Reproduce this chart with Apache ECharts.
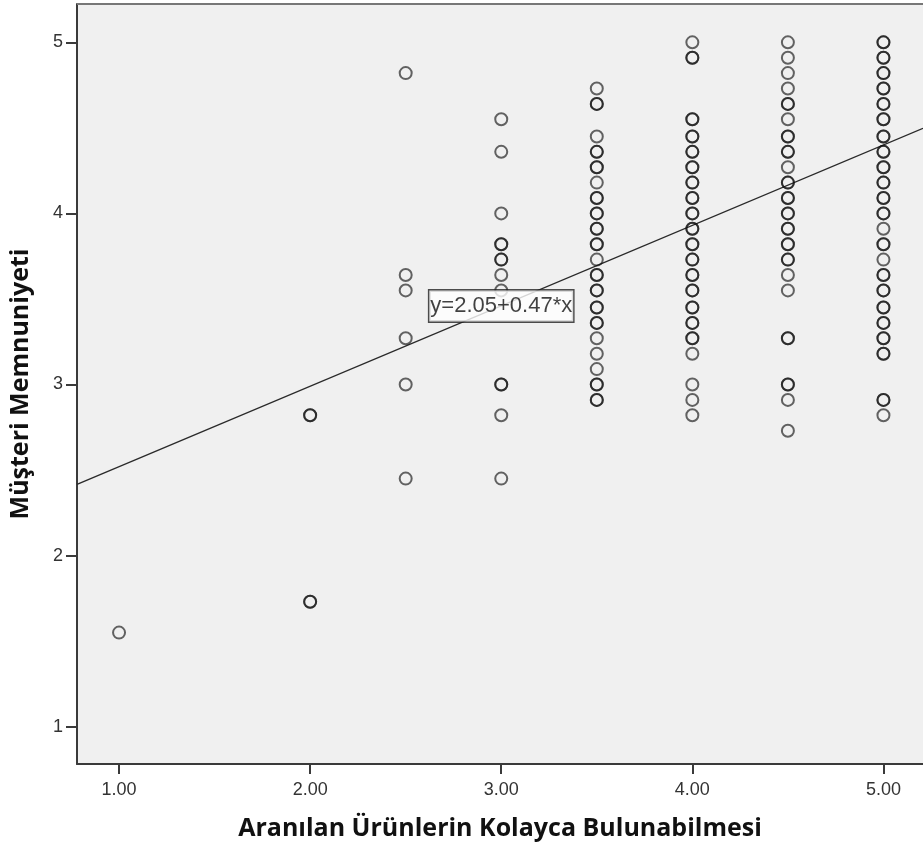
<!DOCTYPE html>
<html>
<head>
<meta charset="utf-8">
<script src="https://cdn.jsdelivr.net/npm/echarts@6/dist/echarts.min.js"></script>
<style>
html,body{margin:0;padding:0;background:#fff;}
#c{width:923px;height:851px;}
</style>
</head>
<body>
<div id="c"></div>
<script>
// Data: satisfaction values per x category (duplicates = overlapping points)
const xTicks = [1, 2, 3, 4, 5];
const xTickLabels = ['1.00', '2.00', '3.00', '4.00', '5.00'];
const yTicks = [1, 2, 3, 4, 5];

const col1_00 = [1.55];
const col2_00 = [2.82, 2.82, 1.73, 1.73];
const col2_50 = [4.82, 3.64, 3.55, 3.27, 3.00, 2.45];
const col3_00 = [4.55, 4.36, 4.00, 3.82, 3.82, 3.73, 3.73, 3.64, 3.55, 3.00, 3.00, 2.82, 2.45];
const col3_50 = [4.73, 4.64, 4.64, 4.45, 4.36, 4.36, 4.27, 4.27, 4.18, 4.09, 4.09, 4.00, 4.00, 3.91, 3.91,
                 3.82, 3.82, 3.73, 3.64, 3.64, 3.55, 3.55, 3.45, 3.45, 3.36, 3.36, 3.27, 3.18, 3.09, 3.00, 3.00, 2.91, 2.91];
const col4_00 = [5.00, 4.91, 4.91, 4.55, 4.55, 4.45, 4.45, 4.36, 4.36, 4.27, 4.27, 4.18, 4.18, 4.09, 4.09,
                 4.00, 4.00, 3.91, 3.91, 3.82, 3.82, 3.73, 3.73, 3.64, 3.64, 3.55, 3.55, 3.45, 3.45, 3.36, 3.36,
                 3.27, 3.27, 3.18, 3.00, 2.91, 2.82];
const col4_50 = [5.00, 4.91, 4.82, 4.73, 4.64, 4.64, 4.55, 4.45, 4.45, 4.36, 4.36, 4.27, 4.18, 4.18, 4.09, 4.09,
                 4.00, 4.00, 3.91, 3.91, 3.82, 3.82, 3.73, 3.73, 3.64, 3.55, 3.27, 3.27, 3.00, 3.00, 2.91, 2.73];
const col5_00 = [5.00, 5.00, 4.91, 4.91, 4.82, 4.82, 4.73, 4.73, 4.64, 4.64, 4.55, 4.55, 4.45, 4.45, 4.36, 4.36,
                 4.27, 4.27, 4.18, 4.18, 4.09, 4.09, 4.00, 4.00, 3.91, 3.82, 3.82, 3.73, 3.64, 3.64, 3.55, 3.55,
                 3.45, 3.45, 3.36, 3.36, 3.27, 3.27, 3.18, 3.18, 2.91, 2.91, 2.82];

const columns = [[1.0, col1_00], [2.0, col2_00], [2.5, col2_50], [3.0, col3_00],
                 [3.5, col3_50], [4.0, col4_00], [4.5, col4_50], [5.0, col5_00]];

// Fit line (from the chart's annotation)
const fitIntercept = 2.05;
const fitSlope = 0.47;
const fitLabel = 'y=2.05+0.47*x';

const xMin = 0.78, xMax = 5.207;
const yMin = 0.782, yMax = 5.224;

const points = [];
columns.forEach(([x, ys]) => ys.forEach(y => points.push([x, y])));

const fitData = [[xMin, fitIntercept + fitSlope * xMin], [xMax, fitIntercept + fitSlope * xMax]];

const chart = echarts.init(document.getElementById('c'), null, {renderer: 'canvas'});
const axisColor = '#3a3a3a';
chart.setOption({
  animation: false,
  backgroundColor: '#ffffff',
  grid: {left: 77, right: 0, top: 4, bottom: 87, show: true, backgroundColor: '#f0f0f0', borderWidth: 0},
  xAxis: {
    type: 'value', min: xMin, max: xMax,
    name: 'Aranılan Ürünlerin Kolayca Bulunabilmesi',
    nameLocation: 'middle', nameGap: 52, nameMoveOverlap: false,
    nameTextStyle: {fontFamily: 'Open Sans', fontWeight: 'bold', fontSize: 25, color: '#111'},
    axisLine: {show: true, lineStyle: {color: axisColor, width: 2}},
    axisTick: {show: true, length: 10, customValues: xTicks, lineStyle: {color: axisColor, width: 2}},
    axisLabel: {customValues: xTicks, formatter: v => xTickLabels[xTicks.indexOf(Math.round(v))], margin: 17,
                fontFamily: 'Liberation Sans', fontSize: 18, color: '#333'},
    splitLine: {show: false}
  },
  yAxis: {
    type: 'value', min: yMin, max: yMax,
    name: 'Müşteri Memnuniyeti',
    nameLocation: 'middle', nameGap: 44, nameMoveOverlap: false,
    nameTextStyle: {fontFamily: 'Open Sans', fontWeight: 'bold', fontSize: 25, color: '#111'},
    axisLine: {show: true, lineStyle: {color: axisColor, width: 2}},
    axisTick: {show: true, length: 11, customValues: yTicks, lineStyle: {color: axisColor, width: 2}},
    axisLabel: {customValues: yTicks, margin: 14, fontFamily: 'Liberation Sans', fontSize: 18, color: '#333'},
    splitLine: {show: false}
  },
  graphic: [{
    type: 'line', shape: {x1: 77, y1: 4, x2: 923, y2: 4},
    style: {stroke: '#777', lineWidth: 2}, z: 10
  }],
  series: [
    {
      type: 'line', data: fitData, symbol: 'none', silent: true,
      lineStyle: {color: '#2a2a2a', width: 1.4}, z: 2
    },
    {
      type: 'scatter', data: points, symbol: 'circle', symbolSize: 12,
      itemStyle: {color: 'rgba(0,0,0,0)', borderColor: 'rgba(15,15,15,0.8)', borderWidth: 2},
      z: 3
    },
    {
      type: 'scatter', data: [[3.0, 3.459]], symbolSize: 0, silent: true, z: 5,
      label: {show: true, position: 'inside', formatter: fitLabel,
              fontFamily: 'Liberation Sans', fontSize: 22, color: '#111',
              backgroundColor: '#fff', borderColor: '#222', borderWidth: 1.4, padding: [5, 1, 4, 1]}
    }
  ]
});
</script>
</body>
</html>
